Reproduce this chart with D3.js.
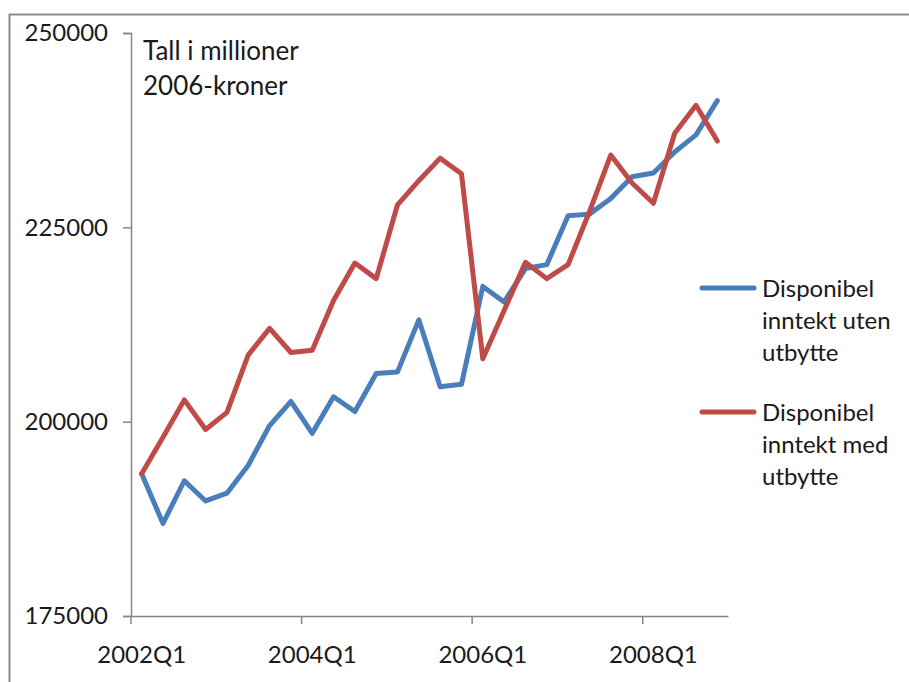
<!DOCTYPE html>
<html>
<head>
<meta charset="utf-8">
<script src="https://cdn.jsdelivr.net/npm/d3@7"></script>
<style>
  html, body { margin: 0; padding: 0; background: #fff; }
  svg text { font-family: Lato, "Open Sans", sans-serif; fill: #1a1a1a; }
</style>
</head>
<body>
<svg id="chart" width="909" height="682"></svg>
<script>
// Quarterly disposable income, million 2006 NOK
const quarters = [
  "2002Q1","2002Q2","2002Q3","2002Q4",
  "2003Q1","2003Q2","2003Q3","2003Q4",
  "2004Q1","2004Q2","2004Q3","2004Q4",
  "2005Q1","2005Q2","2005Q3","2005Q4",
  "2006Q1","2006Q2","2006Q3","2006Q4",
  "2007Q1","2007Q2","2007Q3","2007Q4",
  "2008Q1","2008Q2","2008Q3","2008Q4"
];
const utenUtbytte = [
  193300, 186900, 192400, 189800, 190800, 194400, 199500, 202600,
  198500, 203200, 201300, 206200, 206400, 213100, 204500, 204800,
  217400, 215400, 219700, 220200, 226500, 226700, 228700, 231500,
  232000, 234700, 236900, 241300
];
const medUtbytte = [
  193300, 198000, 202800, 199000, 201200, 208600, 212000, 208900,
  209200, 215600, 220400, 218400, 227900, 231000, 233900, 231900,
  208100, 214300, 220500, 218400, 220200, 227000, 234300, 230700,
  228100, 237100, 240700, 236100
];
const xTickLabels = ["2002Q1", "2004Q1", "2006Q1", "2008Q1"];
const yTickValues = [175000, 200000, 225000, 250000];
const seriesNames = [
  ["Disponibel", "inntekt uten", "utbytte"],
  ["Disponibel", "inntekt med", "utbytte"]
];
const seriesColors = ["#4a7ebb", "#be4b48"];
const noteLines = ["Tall i millioner", "2006-kroner"];

const svg = d3.select("#chart");
const axisColor = "#868686";

// Outer chart frame
svg.append("rect")
  .attr("x", 9.5).attr("y", 14.5)
  .attr("width", 940).attr("height", 720)
  .attr("fill", "none").attr("stroke", "#8c8c8c").attr("stroke-width", 2);

const x = d3.scaleBand().domain(quarters).range([131, 728]).paddingInner(0).paddingOuter(0);
const y = d3.scaleLinear().domain([175000, 250000]).range([616, 33]);

// Y axis
const yAxis = svg.append("g")
  .attr("transform", "translate(131,0)")
  .call(d3.axisLeft(y).tickValues(yTickValues).tickSize(8).tickPadding(15).tickFormat(d3.format("d")));
yAxis.select(".domain").attr("stroke", axisColor).attr("stroke-width", 1.5);
yAxis.selectAll(".tick line").attr("stroke", axisColor).attr("stroke-width", 1.5);
yAxis.selectAll(".tick text").attr("font-size", 24).attr("font-family", null);

// X axis: labels centred on categories, tick marks between categories
const xAxis = svg.append("g")
  .attr("transform", "translate(0,616)")
  .call(d3.axisBottom(x).tickValues(xTickLabels).tickSize(0).tickPadding(30));
xAxis.select(".domain").attr("stroke", axisColor).attr("stroke-width", 1.5);
xAxis.selectAll(".tick text").attr("font-size", 24).attr("font-family", null);
xAxis.selectAll(".tickmark")
  .data(xTickLabels)
  .enter().append("line")
  .attr("class", "tickmark")
  .attr("x1", d => x(d)).attr("x2", d => x(d))
  .attr("y1", 0).attr("y2", 8)
  .attr("stroke", axisColor).attr("stroke-width", 1.5);

// Series lines
const line = d3.line()
  .x((d, i) => x(quarters[i]) + x.bandwidth() / 2)
  .y(d => y(d));

[utenUtbytte, medUtbytte].forEach((vals, k) => {
  svg.append("path")
    .datum(vals)
    .attr("d", line)
    .attr("fill", "none")
    .attr("stroke", seriesColors[k])
    .attr("stroke-width", 5)
    .attr("stroke-linejoin", "round")
    .attr("stroke-linecap", "round");
});

// Unit note
svg.append("text")
  .attr("x", 143).attr("y", 60)
  .attr("font-size", 26)
  .selectAll("tspan")
  .data(noteLines)
  .enter().append("tspan")
  .attr("x", 143)
  .attr("dy", (d, i) => i === 0 ? 0 : 35)
  .text(d => d);

// Legend
const legendTop = [288, 412];
seriesNames.forEach((lines, k) => {
  const g = svg.append("g");
  g.append("line")
    .attr("x1", 702).attr("x2", 754)
    .attr("y1", legendTop[k]).attr("y2", legendTop[k])
    .attr("stroke", seriesColors[k]).attr("stroke-width", 5)
    .attr("stroke-linecap", "round");
  g.append("text")
    .attr("x", 762).attr("y", legendTop[k] + 9)
    .attr("font-size", 24)
    .selectAll("tspan")
    .data(lines)
    .enter().append("tspan")
    .attr("x", 762)
    .attr("dy", (d, i) => i === 0 ? 0 : 32)
    .text(d => d);
});
</script>
</body>
</html>
